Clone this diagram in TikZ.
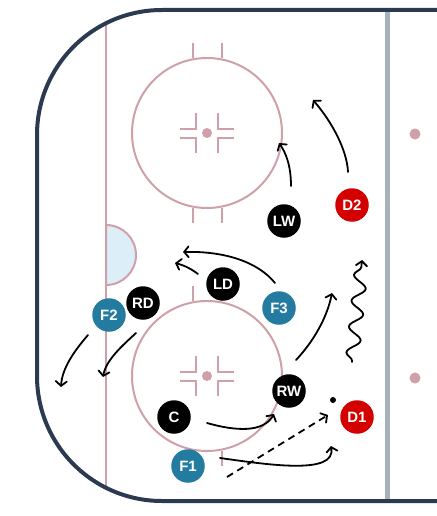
\documentclass[tikz,border=0pt]{standalone}
\usepackage{fontspec}
\setmainfont{Liberation Sans}
\usetikzlibrary{arrows.meta,decorations.pathmorphing}

\definecolor{boardnavy}{HTML}{2B3A51}
\definecolor{rinkpink}{HTML}{CFA0A8}
\definecolor{bluelinegray}{HTML}{A7B1BB}
\definecolor{creaseblue}{HTML}{DCEFF8}
\definecolor{fwdteal}{HTML}{237BA0}
\definecolor{oppred}{HTML}{D40000}

\tikzset{
    boards/.style={boardnavy, line width=4pt, rounded corners=125pt},
    rinkline/.style={rinkpink, line width=2pt},
    blueline/.style={bluelinegray, line width=5pt},
    skater/.style={circle, minimum size=33.5pt, inner sep=0pt, text=white,
        font=\bfseries\fontsize{15}{15}\selectfont},
    skate/.style={black, line width=1.8pt, line cap=round,
        -{Straight Barb[length=4.5pt,width=11pt,line cap=round]}},
    pass/.style={skate, dash pattern=on 7pt off 5pt, line cap=butt},
    wiggle/.style={skate, decorate, decoration={snake, amplitude=6.5pt,
        segment length=26pt, pre length=1pt, post length=6pt}}
}

\begin{document}
\begin{tikzpicture}[x=1pt, y=-1pt]
        \useasboundingbox (0,0) rectangle (436,516);

        % crease and goal line
        \draw [rinkline, fill=creaseblue] (106,225) arc[start angle=-90, end angle=90, radius=30] -- cycle;
        \draw [rinkline] (106,23) -- (106,488);

        % faceoff circles
        \foreach \cy in {133,376} {
            \draw [rinkline] (207,\cy) circle (75);
            \fill [rinkpink] (207,\cy) circle (5);
            \foreach \sx in {-1,1} {
                \draw [rinkline] (207+14.5*\sx, \cy-75) -- (207+14.5*\sx, \cy-90);
                \draw [rinkline] (207+14.5*\sx, \cy+75) -- (207+14.5*\sx, \cy+90);
                \foreach \sy in {-1,1} {
                    \draw [rinkline] (207+11*\sx, \cy+20*\sy) -- (207+11*\sx, \cy+4.5*\sy) -- (207+27*\sx, \cy+4.5*\sy);
                }
            }
        }

        % blue line and neutral zone dots
        \draw [blueline] (387,10) -- (387,501);
        \foreach \cy in {134,378} {
            \fill [rinkpink] (415,\cy) circle (5.5);
        }

        % boards
        \draw [boards] (440,10) -- (37,10) -- (37,501) -- (440,501);

        % players
        \node [skater, fill=black] (lw) at (284,221) {LW};
        \node [skater, fill=oppred] (dtwo) at (352,205) {D2};
        \node [skater, fill=black] (ld) at (223,284) {LD};
        \node [skater, fill=fwdteal] (fthree) at (279,308) {F3};
        \node [skater, fill=black] (rd) at (143,303) {RD};
        \node [skater, fill=fwdteal] (ftwo) at (109,315) {F2};
        \node [skater, fill=black] (rw) at (289,391) {RW};
        \node [skater, fill=black] (c) at (174,417) {C};
        \node [skater, fill=oppred] (done) at (357,417) {D1};
        \node [skater, fill=fwdteal] (fone) at (188,466) {F1};
        \node [circle, fill=black, inner sep=0pt, minimum size=6pt] (puck) at (333,400) {};

        % skating lanes
        \coordinate (lw-from) at (291,186);   \coordinate (lw-to) at (279,143);
        \coordinate (dtwo-from) at (348,172); \coordinate (dtwo-to) at (313,100);
        \coordinate (fthree-from) at (275,283); \coordinate (fthree-to) at (183,252);
        \coordinate (ld-from) at (198,274);   \coordinate (ld-to) at (175,263);
        \coordinate (rd-from) at (136,333);   \coordinate (rd-to) at (103,377);
        \coordinate (ftwo-from) at (88,335);  \coordinate (ftwo-to) at (61,387);
        \coordinate (rw-from) at (296,360);   \coordinate (rw-to) at (332,293);
        \coordinate (c-from) at (207,423);    \coordinate (c-to) at (274,414);
        \coordinate (fone-from) at (220,458); \coordinate (fone-to) at (331,446);
        \coordinate (pass-from) at (227,477); \coordinate (pass-to) at (328,415);
        \coordinate (carry-from) at (352,362); \coordinate (carry-to) at (362,260);

        \draw [skate] (lw-from) .. controls (291,166) and (286,153) .. (lw-to);
        \draw [skate] (dtwo-from) .. controls (347,150) and (332,122) .. (dtwo-to);
        \draw [skate] (fthree-from) .. controls (258,262) and (225,251) .. (fthree-to);
        \draw [skate] (ld-from) .. controls (190,268) and (183,265) .. (ld-to);
        \draw [skate] (rd-from) .. controls (122,346) and (106,360) .. (rd-to);
        \draw [skate] (ftwo-from) .. controls (75,350) and (62,368) .. (ftwo-to);
        \draw [skate] (rw-from) .. controls (313,342) and (327,318) .. (rw-to);
        \draw [skate] (c-from) .. controls (235,431) and (263,433) .. (c-to);
        \draw [skate] (fone-from) .. controls (270,465) and (336,475) .. (fone-to);
        \draw [pass] (pass-from) -- (pass-to);
        \draw [wiggle] (carry-from) -- (carry-to);
    \end{tikzpicture}
\end{document}
